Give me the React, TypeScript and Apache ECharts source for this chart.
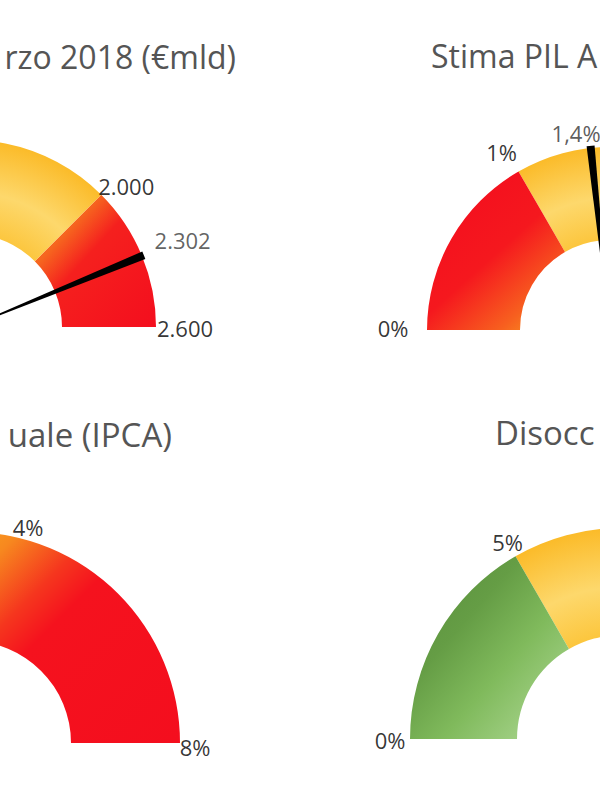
import React, { useEffect, useRef } from 'react';
import * as echarts from 'echarts';

// ---- Data ----
// Gauge 1: debt, €bn
const debtRange = [200, 2600];
const debtBands = [2000, 2600];
const debtValue = 2302;
const debtTickValues = [2000, 2302, 2600];
const debtTickLabels = ['2.000', '2.302', '2.600'];

// Gauge 2: GDP estimate, %
const gdpRange = [0, 3];
const gdpBands = [1, 3];
const gdpValue = 1.4;
const gdpTickValues = [0, 1, 1.4];
const gdpTickLabels = ['0%', '1%', '1,4%'];

// Gauge 3: annual inflation (IPCA), %
const cpiRange = [0, 8];
const cpiBands = [4, 8];
const cpiTickValues = [4, 8];
const cpiTickLabels = ['4%', '8%'];

// Gauge 4: unemployment, %
const unempRange = [0, 15];
const unempBands = [5, 15];
const unempTickValues = [0, 5];
const unempTickLabels = ['0%', '5%'];

const titles = ['rzo 2018 (€mld)', 'Stima PIL A', 'uale (IPCA)', 'Disocc'];

// ---- Layout / style ----
const POLAR_R = 260;
const NEEDLE = 'path://M0 0 L10 0 L5.4 100 L4.6 100 Z';
const FONT = '"Open Sans", "Noto Sans", sans-serif';
const RED = '#F40E1E';

function yellowRadial(cx: number, cy: number, R: number) {
  return new echarts.graphic.RadialGradient(cx, cy, R, [
    { offset: 0.48, color: '#FCC53B' },
    { offset: 0.72, color: '#FDD86C' },
    { offset: 1, color: '#FBBB29' },
  ], true);
}

const layouts = [
  { cx: -31, cy: 327, R: 187, w: 94 },
  { cx: 610, cy: 330, R: 183, w: 93 },
  { cx: -31, cy: 743, R: 211, w: 109 },
  { cx: 621, cy: 739, R: 211, w: 107 },
];

function fillsFor(i: number) {
  const { cx, cy, R } = layouts[i];
  if (i === 0) {
    return [
      yellowRadial(cx, cy, R),
      new echarts.graphic.LinearGradient(0, 0, 1, 1, [
        { offset: 0, color: '#F8861F' },
        { offset: 0.27, color: '#F6661F' },
        { offset: 0.45, color: '#F5201E' },
        { offset: 1, color: RED },
      ]),
    ];
  }
  if (i === 1) {
    return [
      new echarts.graphic.LinearGradient(0.2, 0.1, 0.9, 1, [
        { offset: 0, color: RED },
        { offset: 0.45, color: '#F5181E' },
        { offset: 0.8, color: '#F7601F' },
        { offset: 1, color: '#F99820' },
      ]),
      yellowRadial(cx, cy, R),
    ];
  }
  if (i === 2) {
    return [
      '#F8961E',
      new echarts.graphic.LinearGradient(0, 0, 1, 1, [
        { offset: 0, color: '#F9A01E' },
        { offset: 0.12, color: '#F7881F' },
        { offset: 0.3, color: '#F5361E' },
        { offset: 0.42, color: '#F5121E' },
        { offset: 1, color: RED },
      ]),
    ];
  }
  return [
    new echarts.graphic.LinearGradient(0, 0, 1, 1, [
      { offset: 0, color: '#568C3B' },
      { offset: 0.35, color: '#659D45' },
      { offset: 0.6, color: '#80BA5C' },
      { offset: 1, color: '#B4DC9C' },
    ]),
    yellowRadial(cx, cy, R),
  ];
}

function gauge(i: number, range: number[], bands: number[], value?: number) {
  const { cx, cy, R, w } = layouts[i];
  const fills = fillsFor(i);
  const span = range[1] - range[0];
  return {
    type: 'gauge',
    center: [cx, cy],
    radius: R,
    startAngle: 180,
    endAngle: 0,
    min: range[0],
    max: range[1],
    splitNumber: 1,
    axisLine: {
      show: true,
      lineStyle: { width: w, color: bands.map((b, k) => [(b - range[0]) / span, fills[k]]) },
    },
    axisTick: { show: false },
    splitLine: { show: false },
    axisLabel: { show: false },
    pointer: value == null
      ? { show: false }
      : { show: true, icon: NEEDLE, length: R + 2, width: 8, itemStyle: { color: '#000' } },
    anchor: { show: false },
    title: { show: false },
    detail: { show: false },
    silent: true,
    data: value == null ? [] : [{ value }],
  };
}

// label placement: radius (px from gauge centre), pixel nudge, colour
const labelPlacement = [
  { radii: [211, 231, 216], offsets: [[8, 8], [0, 1], [0, 1]], colors: ['#000', '#3a3a3a', '#000'] },
  { radii: [217, 209, 200], offsets: [[0, -2], [-4, 3], [-13, 2]], colors: ['#000', '#000', '#333'] },
  { radii: [216, 226], offsets: [[59, 0], [0, 4]], colors: ['#000', '#000'] },
  { radii: [231, 227], offsets: [[0, 1], [0, 0]], colors: ['#000', '#000'] },
];

function labelSeries(i: number, values: number[], texts: string[]) {
  const p = labelPlacement[i];
  return {
    type: 'scatter',
    coordinateSystem: 'polar',
    polarIndex: i,
    symbolSize: 1,
    silent: true,
    itemStyle: { color: 'rgba(0,0,0,0)' },
    label: {
      show: true,
      position: 'inside',
      formatter: '{b}',
      fontFamily: FONT,
      fontSize: 22,
      color: '#000',
    },
    data: values.map((v, k) => ({
      name: texts[k],
      value: [p.radii[k], v],
      label: { offset: p.offsets[k], color: p.colors[k] },
    })),
  };
}

const ranges = [debtRange, gdpRange, cpiRange, unempRange];

export default function App() {
  const ref = useRef<HTMLDivElement>(null);
  useEffect(() => {
    if (!ref.current) return;
    const chart = echarts.init(ref.current, undefined, { renderer: 'svg' });
    const topFont = `32px ${FONT}`;
    const bottomFont = `33px ${FONT}`;
    const option = {
      animation: false,
      backgroundColor: '#ffffff',
      polar: layouts.map((l) => ({ center: [l.cx, l.cy], radius: POLAR_R })),
      angleAxis: ranges.map((r, i) => ({
        polarIndex: i,
        type: 'value',
        min: r[0],
        max: r[1],
        startAngle: 180,
        endAngle: 0,
        clockwise: true,
        show: false,
      })),
      radiusAxis: ranges.map((_, i) => ({
        polarIndex: i,
        type: 'value',
        min: 0,
        max: POLAR_R,
        show: false,
      })),
      graphic: [
        { type: 'text', x: 236, y: 56, style: { text: titles[0], font: topFont, fill: '#555555', align: 'right', verticalAlign: 'middle' } },
        { type: 'text', x: 431, y: 55, style: { text: titles[1], font: topFont, fill: '#555555', align: 'left', verticalAlign: 'middle' } },
        { type: 'text', x: 172, y: 434, style: { text: titles[2], font: bottomFont, fill: '#555555', align: 'right', verticalAlign: 'middle' } },
        { type: 'text', x: 495, y: 432, style: { text: titles[3], font: bottomFont, fill: '#555555', align: 'left', verticalAlign: 'middle' } },
      ],
      series: [
        gauge(0, debtRange, debtBands, debtValue),
        gauge(1, gdpRange, gdpBands, gdpValue),
        gauge(2, cpiRange, cpiBands),
        gauge(3, unempRange, unempBands),
        labelSeries(0, debtTickValues, debtTickLabels),
        labelSeries(1, gdpTickValues, gdpTickLabels),
        labelSeries(2, cpiTickValues, cpiTickLabels),
        labelSeries(3, unempTickValues, unempTickLabels),
      ],
    };
    chart.setOption(option as any);
    return () => chart.dispose();
  }, []);
  return (
    <div
      ref={ref}
      style={{ position: 'absolute', left: 0, top: 0, width: 600, height: 800, background: '#fff' }}
    />
  );
}
